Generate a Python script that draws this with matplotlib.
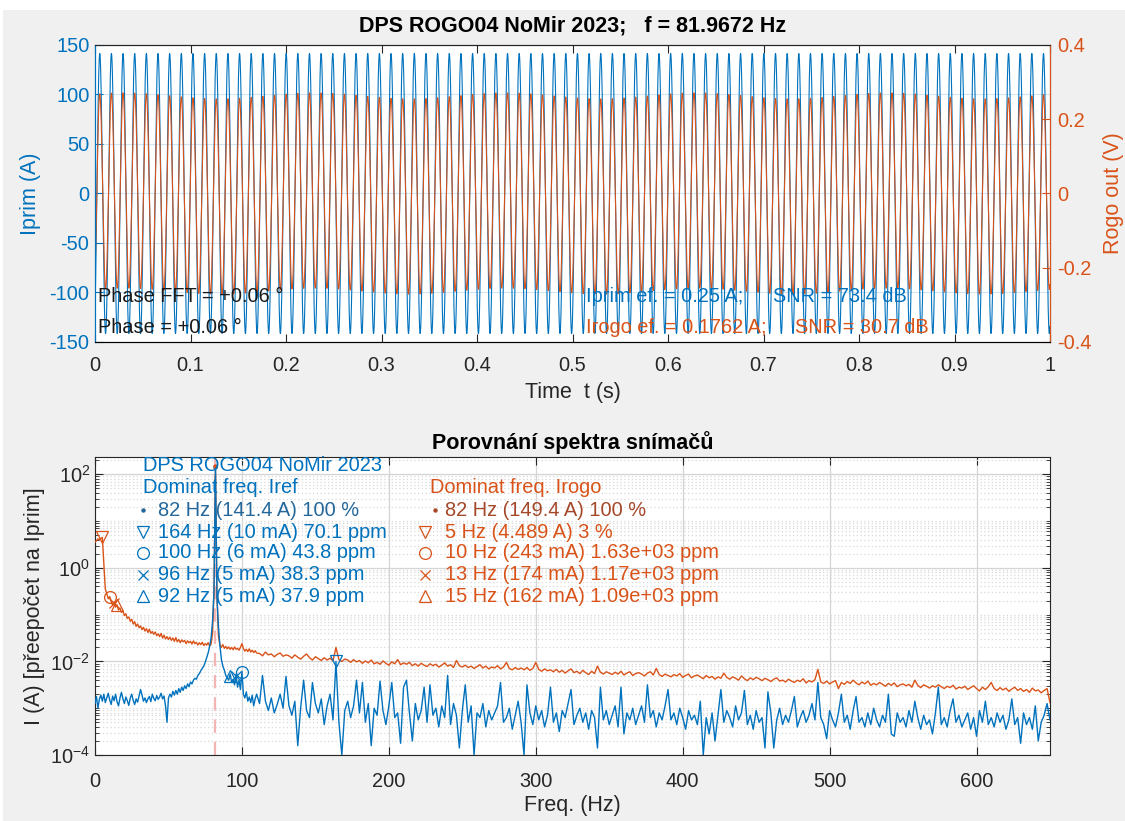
import numpy as np
import matplotlib
matplotlib.use('Agg')
import matplotlib.pyplot as plt
from matplotlib.ticker import LogLocator, NullFormatter, FixedLocator, FuncFormatter

plt.rcParams['font.family'] = ['Liberation Sans', 'DejaVu Sans']
plt.rcParams['axes.unicode_minus'] = False

BLUE = '#0072BD'
ORANGE = '#D95319'
BLUE_DARK = '#24679A'
ORANGE_DARK = '#A5482A'
BG = '#F0F0F0'

# ---- time-domain record parameters ----
f_main = 81.9672          # Hz
iprim_peak = 141.4        # A
rogo_peak = 0.263         # V
rogo_lf_freq = 5.0        # Hz, low-frequency content of the Rogowski output
rogo_lf_amp = 0.008       # V
start_phase_deg = -57.0
phase_shift_deg = 0.06
fs = 10000.0
duration = 1.0

# ---- spectrum (log10 of amplitude, A) ----
freq_low = np.arange(0, 111)          # 0..110 Hz, 1 Hz bins
freq_high = np.arange(112, 651, 2)    # 112..650 Hz
iref_log_low = [
    -2.90, -2.75, -3.00, -2.80, -2.72, -2.85, -2.70, -2.88, -2.78, -2.68,
    -2.82, -2.92, -2.74, -2.84, -2.70, -2.86, -2.95, -2.78, -2.66, -2.80,
    -2.90, -2.76, -2.84, -2.94, -2.78, -2.70, -2.83, -2.92, -2.80, -2.87,
    -2.74, -2.60, -2.72, -2.85, -2.78, -2.88, -2.80, -2.75, -2.86, -2.70,
    -2.79, -2.84, -2.73, -2.81, -2.76, -2.68, -2.80, -2.74, -2.95, -3.30,
    -2.78, -2.70, -2.76, -2.64, -2.72, -2.62, -2.70, -2.58, -2.66, -2.55,
    -2.62, -2.52, -2.58, -2.48, -2.54, -2.44, -2.48, -2.40, -2.36, -2.38,
    -2.30, -2.26, -2.20, -2.15, -2.10, -2.02, -1.92, -1.82, -1.68, -1.50,
    -1.15, -0.50, 2.15, -0.60, -1.25, -1.65, -1.95, -2.10, -2.18, -2.30,
    -2.35, -2.40, -2.27, -2.45, -2.38, -2.50, -2.27, -2.55, -2.40, -2.60,
    -2.21, -2.70, -2.78, -2.65, -2.85, -2.76, -2.88, -2.72, -2.95, -2.80,
    -2.70,
]
iref_log_high = [
    -2.90, -2.30, -2.85, -3.05, -2.78, -3.10, -2.92, -2.70, -3.00, -2.32,
    -2.95, -3.15, -2.85, -3.80, -2.98, -2.40, -3.05, -3.20, -2.45, -2.90,
    -3.10, -2.80, -3.35, -2.95, -2.70, -3.25, -2.00, -3.30, -4.00, -3.05,
    -2.85, -3.20, -2.95, -2.40, -3.10, -2.45, -3.30, -2.90, -3.80, -3.00,
    -3.15, -2.42, -3.05, -3.35, -2.95, -2.45, -3.20, -3.10, -3.75, -2.55,
    -2.40, -3.10, -3.70, -2.90, -3.25, -3.05, -2.55, -3.30, -2.50, -3.15,
    -3.00, -3.40, -2.95, -3.20, -2.30, -3.35, -2.90, -3.15, -3.85, -3.05,
    -2.50, -3.30, -2.95, -4.00, -3.10, -3.20, -2.90, -3.40, -3.05, -3.25,
    -3.10, -2.95, -2.45, -3.30, -3.20, -3.00, -3.45, -3.15, -2.85, -3.30,
    -4.00, -2.50, -3.10, -3.35, -2.95, -3.25, -3.05, -3.40, -3.15, -2.55,
    -3.30, -3.10, -3.50, -3.05, -3.20, -2.90, -2.60, -3.35, -3.15, -3.00,
    -3.30, -3.10, -3.45, -3.05, -3.20, -3.85, -2.55, -3.25, -3.05, -3.35,
    -3.15, -2.95, -3.40, -2.55, -3.55, -3.10, -3.25, -3.00, -3.35, -3.15,
    -2.95, -3.30, -2.50, -3.20, -3.05, -3.40, -3.10, -3.25, -2.95, -2.60,
    -3.25, -3.10, -3.35, -3.00, -3.20, -3.45, -3.05, -3.25, -3.15, -3.35,
    -2.85, -4.00, -3.20, -3.55, -3.10, -3.70, -3.15, -2.60, -3.30, -3.05,
    -3.20, -3.40, -2.95, -3.25, -3.10, -2.62, -3.35, -3.15, -3.45, -3.05,
    -3.30, -3.20, -3.85, -2.65, -3.10, -3.85, -3.25, -3.00, -3.35, -3.15,
    -3.30, -3.05, -2.75, -3.40, -3.20, -3.05, -3.30, -3.15, -2.90, -3.25,
    -2.45, -3.20, -3.35, -3.65, -3.05, -3.25, -3.40, -3.10, -2.70, -3.30,
    -3.15, -3.45, -3.05, -2.75, -3.30, -3.20, -3.40, -3.10, -3.35, -3.00,
    -3.25, -3.40, -3.15, -3.30, -2.70, -3.55, -3.60, -3.10, -3.30, -3.20,
    -3.40, -3.05, -3.30, -2.85, -3.20, -3.45, -3.15, -3.35, -3.25, -3.55,
    -3.10, -2.55, -3.35, -3.20, -3.40, -3.05, -2.80, -3.30, -3.15, -3.40,
    -3.25, -3.10, -3.45, -3.20, -3.60, -3.05, -3.30, -2.85, -3.35, -3.20,
    -3.40, -3.10, -3.30, -3.15, -3.45, -3.25, -2.80, -3.35, -3.20, -3.75,
    -3.10, -3.35, -3.20, -3.45, -2.95, -3.70, -3.30, -3.15, -2.90, -3.25,
]
irogo_log_low = [
    0.55, 0.58, 0.62, 0.60, 0.63, 0.652, 0.10, -0.45, -0.55, -0.66,
    -0.614, -0.72, -0.80, -0.76, -0.84, -0.79, -0.90, -0.86, -0.95, -0.92,
    -1.02, -0.98, -1.08, -1.05, -1.14, -1.10, -1.20, -1.15, -1.25, -1.20,
    -1.28, -1.24, -1.32, -1.27, -1.35, -1.30, -1.38, -1.31, -1.40, -1.36,
    -1.42, -1.37, -1.45, -1.41, -1.47, -1.40, -1.50, -1.44, -1.52, -1.47,
    -1.53, -1.48, -1.55, -1.50, -1.57, -1.49, -1.58, -1.53, -1.60, -1.54,
    -1.58, -1.55, -1.62, -1.56, -1.60, -1.57, -1.63, -1.56, -1.62, -1.59,
    -1.65, -1.60, -1.64, -1.59, -1.66, -1.62, -1.65, -1.60, -1.67, -1.63,
    -1.40, -0.50, 2.174, -0.60, -1.45, -1.65, -1.70, -1.64, -1.72, -1.68,
    -1.73, -1.69, -1.74, -1.70, -1.75, -1.69, -1.74, -1.72, -1.76, -1.70,
    -1.62, -1.72, -1.78, -1.74, -1.79, -1.73, -1.80, -1.76, -1.81, -1.77,
    -1.82,
]
irogo_log_high = [
    -1.83, -1.88, -1.80, -1.86, -1.84, -1.90, -1.85, -1.82, -1.89, -1.86,
    -1.88, -1.93, -1.86, -1.91, -1.95, -1.89, -1.84, -1.92, -1.97, -1.90,
    -1.94, -1.98, -1.92, -1.97, -1.93, -1.99, -1.70, -1.96, -2.00, -1.95,
    -1.97, -2.02, -1.96, -2.01, -1.98, -2.04, -1.99, -2.03, -1.97, -2.05,
    -2.02, -2.06, -1.99, -2.04, -2.08, -2.01, -2.05, -1.96, -2.07, -2.03,
    -2.06, -2.02, -2.09, -2.05, -2.10, -2.04, -2.08, -2.11, -2.05, -2.09,
    -2.06, -2.12, -2.08, -2.03, -2.10, -2.07, -2.13, -1.98, -2.09, -2.12,
    -2.08, -2.13, -2.10, -2.15, -2.11, -2.07, -2.14, -2.10, -2.16, -2.12,
    -2.14, -2.09, -2.16, -2.12, -2.02, -2.15, -2.18, -2.13, -2.17, -2.14,
    -2.18, -2.13, -2.19, -2.15, -2.02, -2.17, -2.21, -2.16, -2.20, -2.18,
    -2.22, -2.17, -2.23, -2.19, -2.25, -2.20, -2.16, -2.24, -2.21, -2.26,
    -2.19, -2.24, -2.28, -2.21, -2.26, -2.10, -2.23, -2.27, -2.22, -2.25,
    -2.28, -2.23, -2.27, -2.21, -2.29, -2.25, -2.22, -2.30, -2.26, -2.24,
    -2.27, -2.31, -2.25, -2.22, -2.29, -2.15, -2.28, -2.32, -2.27, -2.30,
    -2.33, -2.28, -2.31, -2.26, -2.34, -2.30, -2.27, -2.35, -2.31, -2.29,
    -2.33, -2.37, -2.30, -2.35, -2.32, -2.38, -2.33, -2.36, -2.25, -2.34,
    -2.38, -2.33, -2.36, -2.40, -2.31, -2.37, -2.41, -2.35, -2.39, -2.34,
    -2.37, -2.41, -2.36, -2.39, -2.43, -2.38, -2.35, -2.42, -2.40, -2.44,
    -2.38, -2.42, -2.45, -2.40, -2.43, -2.37, -2.46, -2.41, -2.44, -2.39,
    -2.17, -2.44, -2.47, -2.42, -2.48, -2.44, -2.41, -2.58, -2.45, -2.49,
    -2.43, -2.47, -2.40, -2.46, -2.50, -2.44, -2.48, -2.42, -2.51, -2.47,
    -2.50, -2.45, -2.49, -2.53, -2.47, -2.51, -2.46, -2.54, -2.50, -2.48,
    -2.52, -2.49, -2.55, -2.40, -2.51, -2.56, -2.50, -2.53, -2.57, -2.52,
    -2.55, -2.50, -2.54, -2.58, -2.53, -2.56, -2.51, -2.59, -2.55, -2.57,
    -2.53, -2.60, -2.56, -2.52, -2.58, -2.63, -2.55, -2.60, -2.54, -2.45,
    -2.58, -2.62, -2.56, -2.61, -2.57, -2.64, -2.59, -2.55, -2.62, -2.58,
    -2.64, -2.60, -2.66, -2.57, -2.63, -2.61, -2.67, -2.62, -2.58, -2.88,
]

# ---- dominant components ----
iref_dom_freq = [82, 164, 100, 96, 92]
iref_dom_amp = [141.4, 0.010, 0.006, 0.005, 0.005]
iref_dom_text = ['82 Hz (141.4 A) 100 %', '164 Hz (10 mA) 70.1 ppm',
                 '100 Hz (6 mA) 43.8 ppm', '96 Hz (5 mA) 38.3 ppm',
                 '92 Hz (5 mA) 37.9 ppm']
irogo_dom_freq = [82, 5, 10, 13, 15]
irogo_dom_amp = [149.4, 4.489, 0.243, 0.174, 0.162]
irogo_dom_text = ['82 Hz (149.4 A) 100 %', '5 Hz (4.489 A) 3 %',
                  '10 Hz (243 mA) 1.63e+03 ppm', '13 Hz (174 mA) 1.17e+03 ppm',
                  '15 Hz (162 mA) 1.09e+03 ppm']
dom_markers = ['.', 'v', 'o', 'x', '^']

# ---- build signals ----
t = np.arange(0.0, duration, 1.0 / fs)
ph0 = np.deg2rad(start_phase_deg)
iprim = iprim_peak * np.sin(2 * np.pi * f_main * t + ph0)
rogo = (rogo_peak * np.sin(2 * np.pi * f_main * t + ph0 + np.deg2rad(phase_shift_deg))
        + rogo_lf_amp * np.cos(2 * np.pi * rogo_lf_freq * (t - 0.03)))

freq = np.concatenate([freq_low, freq_high])
iref_spec = 10.0 ** np.concatenate([iref_log_low, iref_log_high])
irogo_spec = 10.0 ** np.concatenate([irogo_log_low, irogo_log_high])

# ---- figure ----
W, H = 1125, 821
fig = plt.figure(figsize=(W / 100, H / 100), dpi=100, facecolor=BG)


def px_axes(left, top, right, bottom):
    return fig.add_axes([left / W, 1 - bottom / H, (right - left) / W, (bottom - top) / H])


FS = 14.4      # tick labels and annotations
FL = 15.5      # axis labels
FT = 15.5      # titles
DARK = '#262626'

# ---------------- time domain ----------------
ax1 = px_axes(95, 45, 1050, 342)
ax1.set_facecolor('white')
ax1.plot(t, iprim, color=BLUE, lw=0.8, zorder=2)
ax1.set_xlim(0, 1)
ax1.set_ylim(-150, 150)
ax1.set_yticks(np.arange(-150, 151, 50))
ax1.set_xticks(np.arange(0, 1.01, 0.1))
ax1.xaxis.set_major_formatter(FuncFormatter(lambda v, p: f'{v:g}'))
ax1.yaxis.grid(True, color=BLUE, alpha=0.18, lw=0.8)
ax1.tick_params(axis='y', colors=BLUE, labelsize=FS, direction='in', length=6, pad=4)
ax1.tick_params(axis='x', colors=DARK, labelsize=FS, direction='in', length=6, top=True, pad=10)
ax1.spines['left'].set_color(BLUE)
ax1.spines['top'].set_color(DARK)
ax1.spines['bottom'].set_color(DARK)
ax1.set_ylabel('Iprim (A)', color=BLUE, fontsize=FL, labelpad=6)
ax1.set_xlabel('Time  t (s)', color=DARK, fontsize=FL, labelpad=5)
ax1.set_title('DPS ROGO04 NoMir 2023;   f = 81.9672 Hz', fontsize=FT, fontweight='bold',
              color='black', pad=10)

ax1r = ax1.twinx()
ax1r.plot(t, rogo, color=ORANGE, lw=0.8, zorder=2)
ax1r.set_ylim(-0.4, 0.4)
ax1r.set_yticks([-0.4, -0.2, 0, 0.2, 0.4])
ax1r.yaxis.set_major_formatter(FuncFormatter(lambda v, p: f'{v:g}'))
ax1r.tick_params(axis='y', colors=ORANGE, labelsize=FS, direction='in', length=6, pad=5)
ax1r.spines['right'].set_color(ORANGE)
ax1r.spines['left'].set_color(BLUE)
ax1r.spines['top'].set_color(DARK)
ax1r.set_ylabel('Rogo out (V)', color=ORANGE, fontsize=FL, labelpad=8)

ax1r.text(0.003, 0.152, 'Phase FFT = +0.06 °', transform=ax1.transAxes, fontsize=FS,
          color='#1a1a1a', va='center', ha='left', zorder=5)
ax1r.text(0.003, 0.050, 'Phase = +0.06 °', transform=ax1.transAxes, fontsize=FS,
          color='#1a1a1a', va='center', ha='left', zorder=5)
ax1r.text(0.514, 0.152, 'Iprim ef. = 0.25 A;', transform=ax1.transAxes, fontsize=FS,
          color=BLUE, va='center', ha='left', zorder=5)
ax1r.text(0.710, 0.152, 'SNR = 73.4 dB', transform=ax1.transAxes, fontsize=FS,
          color=BLUE, va='center', ha='left', zorder=5)
ax1r.text(0.514, 0.050, 'Irogo ef. = 0.1762 A;', transform=ax1.transAxes, fontsize=FS,
          color=ORANGE, va='center', ha='left', zorder=5)
ax1r.text(0.733, 0.050, 'SNR = 30.7 dB', transform=ax1.transAxes, fontsize=FS,
          color=ORANGE, va='center', ha='left', zorder=5)

# ---------------- spectrum ----------------
ax2 = px_axes(95, 457, 1050, 755)
ax2.set_facecolor('white')
ax2.set_yscale('log')
ax2.set_xlim(0, 650)
ax2.set_ylim(1e-4, 10 ** 2.37)
ax2.axvline(f_main, color='#F4B4B4', lw=1.6, ls=(0, (6, 4)), zorder=1)
ax2.plot(freq, irogo_spec, color=ORANGE, lw=1.0, zorder=3)
ax2.plot(freq, iref_spec, color=BLUE, lw=1.0, zorder=4)


def dom_marker(axis, x, y, m, col, **kw):
    if m == '.':
        return axis.plot([x], [y], ls='none', marker='o', ms=3.2, color=col, mfc=col, mew=0, **kw)
    return axis.plot([x], [y], ls='none', marker=m, ms=6.5 if m == 'x' else 8.5, color=col,
                     mfc='none', mew=0.9, **kw)


for f, a, m in zip(iref_dom_freq, iref_dom_amp, dom_markers):
    dom_marker(ax2, f, a, m, BLUE, zorder=5)
for f, a, m in zip(irogo_dom_freq, irogo_dom_amp, dom_markers):
    dom_marker(ax2, f, a, m, ORANGE, zorder=5)

ax2.set_xticks(np.arange(0, 601, 100))
ax2.yaxis.set_major_locator(FixedLocator([1e-4, 1e-2, 1e0, 1e2]))
ax2.yaxis.set_minor_locator(LogLocator(base=10, subs=np.arange(1, 10), numticks=40))
ax2.yaxis.set_minor_formatter(NullFormatter())
ax2.grid(which='major', color='#d4d4d4', lw=0.9, zorder=0)
ax2.grid(which='minor', axis='y', color='#d8d8d8', lw=0.9, ls=(0, (1, 2)), zorder=0)
ax2.set_axisbelow(True)
ax2.tick_params(which='both', direction='in', top=True, right=True, colors=DARK,
                labelsize=FS)
ax2.tick_params(axis='x', which='major', pad=12)
ax2.tick_params(which='major', length=6)
ax2.tick_params(which='minor', length=3)
for s in ax2.spines.values():
    s.set_color(DARK)
ax2.set_xlabel('Freq. (Hz)', fontsize=FL, color=DARK, labelpad=3)
ax2.set_ylabel('I (A) [přeepočet na Iprim]', fontsize=FL, color=DARK, labelpad=4)
ax2.set_title('Porovnání spektra snímačů', fontsize=FT, fontweight='bold', pad=6)


def ax2_frac(xp, yp):
    return ((xp - 95) / 955.0, (755 - yp) / 298.0)


row_y = [510, 532, 553, 575, 596]

x0, y0 = ax2_frac(143, 465)
ax2.text(x0, y0, 'DPS ROGO04 NoMir 2023', transform=ax2.transAxes, color=BLUE,
         fontsize=FS, va='center', ha='left', zorder=6)
x0, y0 = ax2_frac(143, 487)
ax2.text(x0, y0, 'Dominat freq. Iref', transform=ax2.transAxes, color=BLUE,
         fontsize=FS, va='center', ha='left', zorder=6)
x0, y0 = ax2_frac(430, 487)
ax2.text(x0, y0, 'Dominat freq. Irogo', transform=ax2.transAxes, color=ORANGE,
         fontsize=FS, va='center', ha='left', zorder=6)

for i, (txt, m) in enumerate(zip(iref_dom_text, dom_markers)):
    col = BLUE_DARK if i == 0 else BLUE
    mx, my = ax2_frac(143, row_y[i])
    tx, _ = ax2_frac(158, row_y[i])
    dom_marker(ax2, mx, my, m, col, transform=ax2.transAxes, zorder=6, clip_on=False)
    ax2.text(tx, my, txt, transform=ax2.transAxes, color=col, fontsize=FS,
             va='center', ha='left', zorder=6)

for i, (txt, m) in enumerate(zip(irogo_dom_text, dom_markers)):
    col = ORANGE_DARK if i == 0 else ORANGE
    mx, my = ax2_frac(435 if i == 0 else 425, row_y[i])
    tx, _ = ax2_frac(445, row_y[i])
    dom_marker(ax2, mx, my, m, col, transform=ax2.transAxes, zorder=6, clip_on=False)
    ax2.text(tx, my, txt, transform=ax2.transAxes, color=col, fontsize=FS,
             va='center', ha='left', zorder=6)

# white margin of the window capture
fig.patches.append(plt.Rectangle((0, 1 - 10 / H), 1, 10 / H, transform=fig.transFigure,
                                 facecolor='white', edgecolor='none', zorder=-1))
fig.patches.append(plt.Rectangle((0, 0), 3 / W, 1, transform=fig.transFigure,
                                 facecolor='white', edgecolor='none', zorder=-1))

fig.savefig('out.png', dpi=100, facecolor=BG)
